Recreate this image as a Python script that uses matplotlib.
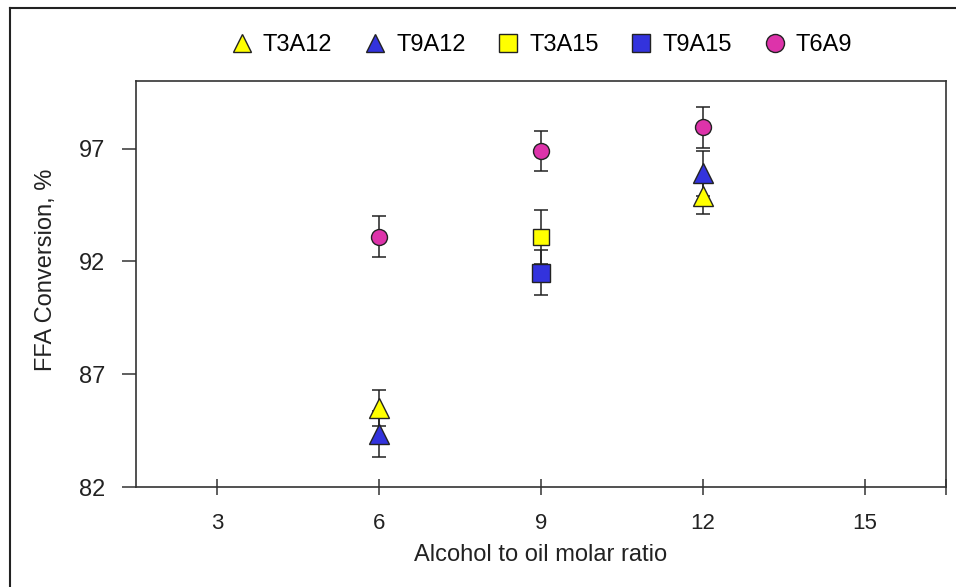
import matplotlib
matplotlib.use("Agg")
from matplotlib import pyplot as plt
from matplotlib.lines import Line2D

# donnees
x_T3A12 = [6, 12]
y_T3A12 = [85.5, 94.9]
e_T3A12 = [0.8, 0.8]

x_T9A12 = [6, 12]
y_T9A12 = [84.35, 95.9]
e_T9A12 = [1.0, 1.0]

x_T3A15 = [9]
y_T3A15 = [93.1]
e_T3A15 = [1.2]

x_T9A15 = [9]
y_T9A15 = [91.5]
e_T9A15 = [1.0]

x_T6A9 = [6, 9, 12]
y_T6A9 = [93.1, 96.9, 97.95]
e_T6A9 = [0.9, 0.9, 0.9]

xticks = [3, 6, 9, 12, 15]
yticks = [82, 87, 92, 97]

plt.rcParams['font.family'] = ['Liberation Sans', 'DejaVu Sans']

fig = plt.figure(figsize=(9.56, 5.87), dpi=100)
ax = fig.add_axes([136/956, 1-487/587, (946-136)/956, (487-81)/587])

series = [
    ("T3A12", x_T3A12, y_T3A12, e_T3A12, '^', '#FFFF00', 14),
    ("T9A12", x_T9A12, y_T9A12, e_T9A12, '^', '#3333DD', 14),
    ("T3A15", x_T3A15, y_T3A15, e_T3A15, 's', '#FFFF00', 12),
    ("T9A15", x_T9A15, y_T9A15, e_T9A15, 's', '#3333DD', 13),
    ("T6A9", x_T6A9, y_T6A9, e_T6A9, 'o', '#DD33AA', 11.5),
]
handles = []
for nom, xs, ys, es, mk, col, ms in series:
    ax.errorbar(xs, ys, yerr=es, fmt='none', ecolor='#222222', elinewidth=1.1,
                capsize=5, capthick=1.1, zorder=2)
    h, = ax.plot(xs, ys, linestyle='none', marker=mk, markersize=ms,
                 markerfacecolor=col, markeredgecolor='#222222', markeredgewidth=1.0,
                 zorder=3, label=nom)
    handles.append(h)

ax.set_xlim(1.5, 16.5)
ax.set_ylim(82, 100)
ax.set_xticks(xticks)
ax.set_yticks(yticks)
ax.set_xticks([16.5], minor=True)
for s in ax.spines.values():
    s.set_linewidth(1.2)
    s.set_color('#333333')
ax.tick_params(axis='x', which='both', direction='inout', length=12, width=1.1,
               colors='#333333', labelcolor='#222222', pad=13, labelsize=16)
ax.tick_params(axis='y', direction='out', length=10, width=1.1,
               colors='#333333', labelcolor='#222222', pad=12, labelsize=17)

ax.set_xlabel('Alcohol to oil molar ratio', fontsize=17, color='#222222', labelpad=7)
ax.set_ylabel('FFA Conversion, %', fontsize=17, color='#222222')
ax.yaxis.set_label_coords(-0.098, 0.535)

leg = fig.legend(handles=handles, loc='center', bbox_to_anchor=(541/956, 1-45/587),
                 ncol=5, frameon=False, fontsize=17, handletextpad=0.4,
                 columnspacing=1.3, handlelength=1.0)
for h in leg.legend_handles:
    h.set_markersize(13)

# cadre exterieur
fig.add_artist(Line2D([9.5/956, 9.5/956], [0, 1-7.5/587], transform=fig.transFigure,
                      color='#222222', lw=1.5))
fig.add_artist(Line2D([9.5/956, 1], [1-7.5/587, 1-7.5/587], transform=fig.transFigure,
                      color='#222222', lw=1.5))

fig.savefig('out.png', dpi=100)
